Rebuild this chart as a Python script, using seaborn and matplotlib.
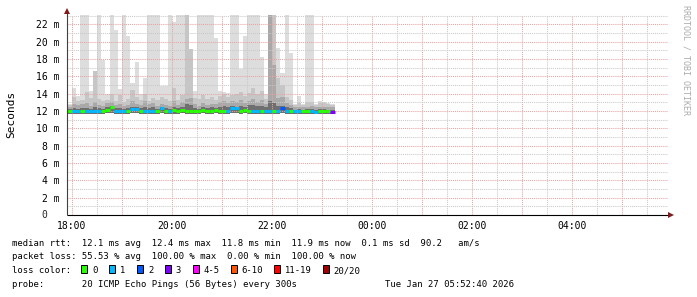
import numpy as np
import pandas as pd
import matplotlib
matplotlib.use("Agg")
import matplotlib.pyplot as plt
import seaborn as sns
from matplotlib.patches import Rectangle
from matplotlib.transforms import blended_transform_factory, offset_copy

# ---------------- data ----------------
first_step = "2026-01-26 17:50"        # start of first 5-minute step
step_minutes = 5

median_ms = [12.0, 12.0, 11.95, 11.95, 12.05, 11.95, 11.95, 12.0, 11.95, 12.05,
             12.1, 12.45, 12.05, 11.95, 11.95, 12.05, 12.25, 12.25, 12.05, 11.95,
             11.95, 11.95, 12.05, 12.3, 12.05, 11.95, 12.1, 12.05, 12.1, 12.05,
             12.05, 12.0, 12.05, 12.1, 12.05, 12.05, 12.1, 12.05, 12.05, 11.95,
             12.3, 12.3, 12.05, 12.1, 12.05, 12.0, 12.0, 12.05, 11.95, 12.0,
             12.05, 12.0, 12.3, 12.0, 12.05, 11.95, 11.95, 12.05, 12.05, 11.95,
             11.85, 12.0, 12.0, 12.0, 11.9]
loss_class = ["0", "0", "1", "1", "0", "1", "1", "1", "1", "0",
              "0", "0", "1", "1", "1", "0", "1", "1", "0", "1",
              "1", "1", "0", "1", "0", "1", "0", "0", "0", "0",
              "0", "0", "0", "0", "0", "0", "0", "0", "0", "1",
              "1", "1", "0", "0", "0", "1", "1", "0", "1", "1",
              "0", "1", "2", "1", "0", "1", "1", "0", "0", "1",
              "1", "0", "0", "0", "3"]
smoke_min = [11.7, 11.7, 11.65, 11.65, 11.7, 11.65, 11.65, 11.7, 11.65, 11.7,
             11.75, 11.8, 11.7, 11.65, 11.65, 11.7, 11.8, 11.8, 11.7, 11.65,
             11.65, 11.65, 11.7, 11.8, 11.7, 11.65, 11.7, 11.7, 11.75, 11.7,
             11.7, 11.7, 11.7, 11.75, 11.7, 11.7, 11.75, 11.7, 11.7, 11.65,
             11.8, 11.8, 11.7, 11.75, 11.7, 11.7, 11.7, 11.7, 11.65, 11.7,
             11.7, 11.7, 11.8, 11.7, 11.7, 11.65, 11.6, 11.7, 11.7, 11.65,
             11.6, 11.7, 11.7, 11.7, 11.65]
smoke_inner = [12.2, 12.2, 12.3, 12.2, 12.3, 12.3, 12.2, 12.4, 12.3, 12.2,
               12.4, 12.6, 12.3, 12.3, 12.2, 12.3, 12.5, 12.4, 12.3, 12.4,
               12.3, 12.4, 12.2, 12.5, 12.3, 12.2, 12.5, 12.3, 12.4, 12.8,
               12.7, 12.3, 12.2, 12.4, 12.3, 12.4, 12.3, 12.5, 12.6, 12.4,
               12.6, 12.5, 12.6, 12.5, 12.7, 12.7, 12.6, 12.6, 12.5, 13.2,
               12.9, 12.6, 12.6, 12.4, 12.3, 12.1, 12.2, 12.1, 12.2, 12.2,
               12.1, 12.2, 12.2, 12.1, 12.1]
smoke_mid = [12.6, 12.5, 12.8, 12.7, 12.8, 12.9, 12.6, 13.0, 12.7, 12.6,
             12.9, 13.0, 12.7, 12.8, 12.6, 12.7, 13.2, 12.8, 12.7, 13.1,
             12.8, 12.9, 12.6, 12.8, 12.7, 12.6, 13.2, 12.7, 13.0, 13.4,
             13.5, 12.8, 12.6, 12.9, 12.7, 12.8, 12.8, 13.0, 13.2, 12.9,
             13.1, 13.0, 13.3, 12.9, 13.2, 13.4, 13.0, 13.3, 12.8, 23.5,
             17.3, 13.5, 13.6, 12.9, 12.7, 12.4, 12.5, 12.4, 12.5, 12.6,
             12.4, 12.5, 12.5, 12.4, 12.4]
smoke_upper = [13.4, 12.7, 13.6, 13.2, 13.3, 14.2, 13.5, 16.6, 13.4, 13.1,
               13.3, 14.0, 13.2, 13.8, 13.0, 13.4, 14.4, 13.6, 13.3, 14.0,
               13.2, 13.5, 13.3, 13.6, 13.4, 13.2, 14.6, 13.3, 13.8, 23.5,
               19.1, 13.5, 13.4, 13.8, 13.4, 13.6, 13.3, 13.7, 13.9, 13.6,
               13.8, 14.0, 14.2, 13.7, 14.1, 14.6, 13.9, 14.3, 13.4, 23.5,
               23.5, 15.8, 15.0, 13.6, 13.3, 12.7, 12.9, 12.7, 13.0, 13.0,
               12.7, 12.9, 12.9, 12.8, 12.7]
smoke_max = [16.4, 12.8, 14.7, 13.7, 23.5, 23.5, 14.3, 16.6, 23.5, 17.9,
             14.0, 23.5, 21.3, 14.5, 23.5, 20.6, 15.2, 17.7, 14.0, 15.8,
             23.5, 23.5, 23.5, 14.9, 14.9, 23.5, 22.3, 23.5, 23.5, 23.5,
             19.1, 14.3, 23.5, 23.5, 23.5, 23.5, 20.4, 14.3, 14.2, 14.1,
             23.5, 23.5, 16.8, 20.6, 23.5, 23.5, 23.5, 18.2, 14.0, 23.5,
             23.5, 19.3, 16.4, 23.5, 18.7, 12.8, 13.7, 12.8, 23.5, 23.5,
             12.8, 13.1, 13.0, 12.9, 12.8]

x_ticks_h = [0, 2, 4, 6, 8, 10]
x_tick_labels = ["18:00", "20:00", "22:00", "00:00", "02:00", "04:00"]
y_ticks = [2, 4, 6, 8, 10, 12, 14, 16, 18, 20, 22]
y_tick_labels = ["2 m", "4 m", "6 m", "8 m", "10 m", "12 m", "14 m", "16 m",
                 "18 m", "20 m", "22 m"]

loss_legend_labels = ["0", "1", "2", "3", "4-5", "6-10", "11-19", "20/20"]
loss_legend_colors = ["#26ff00", "#00b8ff", "#0059ff", "#7e00ff",
                      "#ff00ff", "#ff5500", "#ff0000", "#a10000"]
line_palette = {"0": "#26ff00", "1": "#00b8ff", "2": "#0059ff", "3": "#7e00ff"}

row_rtt = "median rtt:  12.1 ms avg  12.4 ms max  11.8 ms min  11.9 ms now  0.1 ms sd  90.2   am/s"
row_loss = "packet loss: 55.53 % avg  100.00 % max  0.00 % min  100.00 % now"
row_color = "loss color:"
row_probe = "probe:       20 ICMP Echo Pings (56 Bytes) every 300s"
row_date = "Tue Jan 27 05:52:40 2026"
watermark = "RRDTOOL / TOBI OETIKER"

# ---------------- figure ----------------
sns.set_style("white")
plt.rcParams["font.family"] = ["DejaVu Sans Mono", "DejaVu Sans"]

W, H = 697, 297
fig = plt.figure(figsize=(W / 100, H / 100), dpi=100)
fig.patch.set_facecolor("white")

ax_left_px, ax_right_px = 66.5, 668.0
ax_top_px, ax_bot_px = 14.7, 215.0
ax = fig.add_axes([ax_left_px / W, 1 - ax_bot_px / H,
                   (ax_right_px - ax_left_px) / W, (ax_bot_px - ax_top_px) / H])
ax.set_facecolor("white")

px_per_h = 50.0
x0_h = -(72.0 - ax_left_px) / px_per_h
x1_h = (ax_right_px - 72.0) / px_per_h
ymax = 23.1

base = pd.Timestamp("2026-01-26 18:00")
starts = pd.date_range(first_step, periods=len(median_ms), freq=f"{step_minutes}min")
t_start = ((starts - base).total_seconds() / 3600.0).to_numpy()
step_h = step_minutes / 60.0
edges = np.append(t_start, t_start[-1] + step_h)


def ext(a):
    a = np.asarray(a, dtype=float)
    return np.append(a, a[-1])


lo = ext(smoke_min)
layers = [(smoke_max, "#dddddd"), (smoke_upper, "#c6c6c6"),
          (smoke_mid, "#a9a9a9"), (smoke_inner, "#6f6f6f")]
for z, (top, col) in enumerate(layers):
    ax.fill_between(edges, lo, ext(top), step="post", color=col, lw=0,
                    antialiased=False, zorder=1 + z * 0.1)

# grid (drawn over the smoke, like rrdtool)
major_c, minor_c = "#e8a3a3", "#c9c9c9"
dot = (0, (1, 1))
for h in np.arange(np.ceil(x0_h * 2) / 2, x1_h, 0.5):
    is_major = abs(h - round(h)) < 1e-9
    ax.axvline(h, color=major_c if is_major else minor_c, lw=0.75, ls=dot, zorder=3)
for v in range(1, 24):
    ax.axhline(v, color=major_c if v % 2 == 0 else minor_c, lw=0.75, ls=dot, zorder=3)

# median line coloured by loss
rows = []
for i, (t, m, c) in enumerate(zip(t_start, median_ms, loss_class)):
    rows.append({"t": t, "median": m, "seg": i, "loss": c})
    rows.append({"t": t + step_h, "median": m, "seg": i, "loss": c})
df = pd.DataFrame(rows)
sns.lineplot(data=df, x="t", y="median", hue="loss", units="seg", estimator=None,
             palette=line_palette, legend=False, linewidth=2.2, ax=ax, zorder=5,
             solid_capstyle="butt")

ax.set_xlim(x0_h, x1_h)
ax.set_ylim(0, ymax)
ax.set_xlabel("")
ax.set_ylabel("")
for s in ax.spines.values():
    s.set_visible(False)

tick_font = dict(family="DejaVu Sans Mono", size=7)
ax.set_xticks(x_ticks_h, x_tick_labels, **tick_font)
ax.set_yticks(y_ticks, y_tick_labels, **tick_font)
ax.tick_params(axis="x", length=0, pad=4.3, colors="#000000")
ax.tick_params(axis="y", length=0, pad=4.7, colors="#000000")
ax.grid(False)

# "0" label (aligned as the digit of "N m")
tr0 = offset_copy(blended_transform_factory(ax.transAxes, ax.transData), fig=fig,
                  x=-(ax_left_px - 47.7), y=0, units="dots")
ax.text(0, 0, "0", transform=tr0, ha="right", va="center", **tick_font)

# axes lines + arrows
ax_h_px = ax_bot_px - ax_top_px
ax_w_px = ax_right_px - ax_left_px
ax.plot([0, 1.0], [0, 0], transform=ax.transAxes, color="black", lw=0.8,
        clip_on=False, zorder=6, solid_capstyle="butt")
ax.plot([0, 0], [0, 1 + 3.5 / ax_h_px], transform=ax.transAxes, color="#404040",
        lw=0.8, clip_on=False, zorder=6, solid_capstyle="butt")
ax.plot([0], [1 + 4.2 / ax_h_px], marker="^", ms=4.2, color="#7f1b1b",
        transform=ax.transAxes, clip_on=False, zorder=7, mew=0)
ax.plot([1 + 2.5 / ax_w_px], [0], marker=">", ms=4.2, color="#7f1b1b",
        transform=ax.transAxes, clip_on=False, zorder=7, mew=0)

# y axis title and watermark
fig.text(11 / W, 1 - 114 / H, "Seconds", rotation=90, ha="center", va="center",
         family="DejaVu Sans Mono", size=8, color="#000000")
fig.text(686 / W, 1 - 60 / H, watermark, rotation=270, ha="center", va="center",
         family="DejaVu Sans Mono", size=6, color="#ababab")

# legend block
leg_font = dict(family="DejaVu Sans Mono", size=6.4, color="#000000")
baselines = [245.7, 259.4, 273.1, 286.8]
fig.text(12 / W, 1 - baselines[0] / H, row_rtt, va="baseline", ha="left", **leg_font)
fig.text(12 / W, 1 - baselines[1] / H, row_loss, va="baseline", ha="left", **leg_font)
fig.text(12 / W, 1 - baselines[2] / H, row_color, va="baseline", ha="left", **leg_font)
fig.text(12 / W, 1 - baselines[3] / H, row_probe, va="baseline", ha="left", **leg_font)
fig.text(385 / W, 1 - baselines[3] / H, row_date, va="baseline", ha="left", **leg_font)

sw_x = [81, 109, 137, 165, 193, 231, 274, 322.7]
lab_x = [92.7, 120, 148, 175.7, 203.3, 241.7, 285, 333.3]
for sx, lx, lab, col in zip(sw_x, lab_x, loss_legend_labels, loss_legend_colors):
    fig.add_artist(Rectangle((sx / W, 1 - 273.3 / H), 6.3 / W, 8.3 / H,
                             transform=fig.transFigure, facecolor=col,
                             edgecolor="black", lw=0.7))
    fig.text(lx / W, 1 - baselines[2] / H, lab, va="baseline", ha="left", **leg_font)

fig.savefig("out.png", dpi=100, facecolor="white")
